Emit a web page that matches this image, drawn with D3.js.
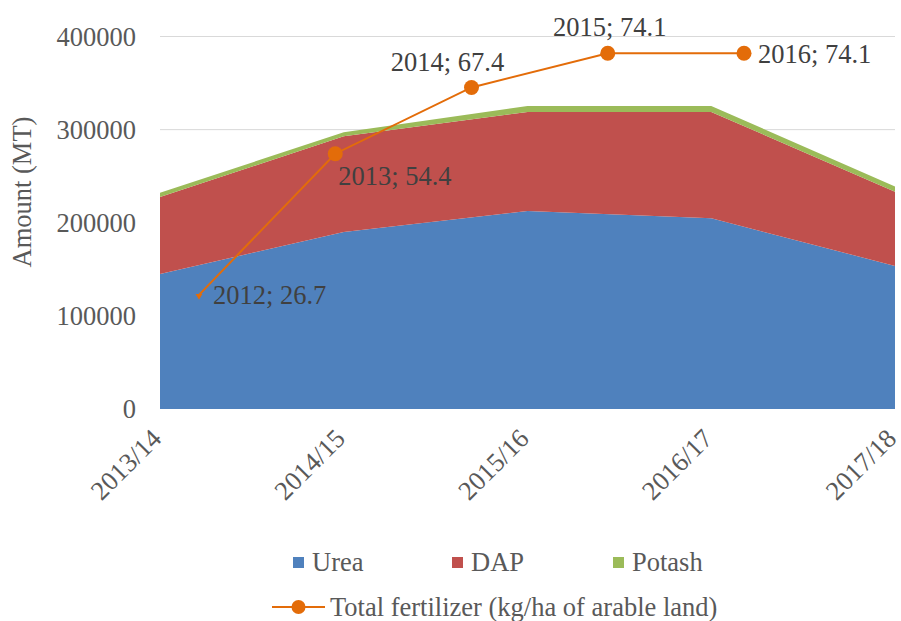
<!DOCTYPE html>
<html>
<head>
<meta charset="utf-8">
<script src="https://cdn.jsdelivr.net/npm/d3@7"></script>
<style>
  body { margin: 0; background: #fff; }
</style>
</head>
<body>
<svg width="901" height="621"></svg>
<script>
// Fertilizer amounts (MT) by season, stacked
const categories = ["2013/14", "2014/15", "2015/16", "2016/17", "2017/18"];
const urea = [145000, 190000, 212700, 204800, 153600];
const dap = [82700, 102900, 106300, 114200, 79800];
const potash = [4500, 4300, 6400, 6400, 5400];
const seriesNames = ["Urea", "DAP", "Potash"];

// Total fertilizer use (kg/ha of arable land), secondary series
const years = ["2012", "2013", "2014", "2015", "2016"];
const totalFert = [26.7, 54.4, 67.4, 74.1, 74.1];
const labelSide = ["right", "below", "aboveLeft", "above", "right"];

const yTicks = [0, 100000, 200000, 300000, 400000];

const colors = { Urea: "#4F81BD", DAP: "#C0504D", Potash: "#9BBB59" };
const lineColor = "#E36C09";
const FONT = 26.5;
const FAMILY = "'Liberation Serif'";

const svg = d3.select("svg");

// plot area
const plotLeft = 160, plotRight = 895, plotTop = 36.5, plotBottom = 409;

const x = d3.scalePoint().domain(categories).range([plotLeft, plotRight]);
const y = d3.scaleLinear().domain([0, 400000]).range([plotBottom, plotTop]);

// secondary (hidden) axes for the line series
const x2 = d3.scalePoint().domain(years).range([199, 744]);
const y2 = d3.scaleLinear().domain([4.3, 77.4]).range([plotBottom, plotTop]);

// Gridlines
svg.append("g")
  .selectAll("line")
  .data(yTicks.filter(d => d > 0))
  .enter().append("line")
  .attr("x1", plotLeft).attr("x2", plotRight)
  .attr("y1", d => y(d)).attr("y2", d => y(d))
  .attr("stroke", "#D9D9D9").attr("stroke-width", 1);

// Stacked areas
const rows = categories.map((c, i) => ({ cat: c, Urea: urea[i], DAP: dap[i], Potash: potash[i] }));
const stack = d3.stack().keys(seriesNames)(rows);

const area = d3.area()
  .x(d => x(d.data.cat))
  .y0(d => y(d[0]))
  .y1(d => y(d[1]));

svg.append("g")
  .selectAll("path")
  .data(stack)
  .enter().append("path")
  .attr("d", area)
  .attr("fill", d => colors[d.key]);

// Y axis tick labels
svg.append("g")
  .selectAll("text")
  .data(yTicks)
  .enter().append("text")
  .attr("x", 136)
  .attr("y", d => y(d))
  .attr("dy", "0.35em")
  .attr("text-anchor", "end")
  .attr("font-family", FAMILY)
  .attr("font-size", FONT)
  .attr("fill", "#595959")
  .text(d => d);

// Y axis title
svg.append("text")
  .attr("transform", "translate(22,192) rotate(-90)")
  .attr("dy", "0.35em")
  .attr("text-anchor", "middle")
  .attr("font-family", FAMILY)
  .attr("font-size", FONT)
  .attr("fill", "#595959")
  .text("Amount (MT)");

// X axis labels, rotated
svg.append("g")
  .selectAll("text")
  .data(categories)
  .enter().append("text")
  .attr("transform", d => "translate(" + (x(d) + 3) + ",440) rotate(-45)")
  .attr("text-anchor", "end")
  .attr("font-family", FAMILY)
  .attr("font-size", FONT)
  .attr("fill", "#595959")
  .text(d => d);

// Line series
const pts = years.map((yr, i) => ({ yr: yr, v: totalFert[i], side: labelSide[i] }));

svg.append("path")
  .datum(pts)
  .attr("d", d3.line().x(d => x2(d.yr)).y(d => y2(d.v)))
  .attr("fill", "none")
  .attr("stroke", lineColor)
  .attr("stroke-width", 2);

// first point marker is mostly clipped in the original, leaving a small tip
svg.append("path")
  .attr("d", d3.symbol().type(d3.symbolTriangle).size(20)())
  .attr("transform", "translate(" + x2(pts[0].yr) + "," + (y2(pts[0].v) + 1) + ") rotate(180)")
  .attr("fill", lineColor);

svg.append("g")
  .selectAll("circle")
  .data(pts.slice(1))
  .enter().append("circle")
  .attr("cx", d => x2(d.yr))
  .attr("cy", d => y2(d.v))
  .attr("r", 7.5)
  .attr("fill", lineColor);

// Data labels
function labelAttrs(d) {
  const px = x2(d.yr), py = y2(d.v);
  if (d.side === "right") return { x: px + 14, y: py, anchor: "start" };
  if (d.side === "below") return { x: px + 3, y: py + 22, anchor: "start" };
  if (d.side === "aboveLeft") return { x: px - 24, y: py - 26, anchor: "middle" };
  return { x: px + 2, y: py - 27, anchor: "middle" };
}

svg.append("g")
  .selectAll("text")
  .data(pts)
  .enter().append("text")
  .each(function(d) {
    const a = labelAttrs(d);
    d3.select(this)
      .attr("x", a.x).attr("y", a.y)
      .attr("text-anchor", a.anchor);
  })
  .attr("dy", "0.35em")
  .attr("font-family", FAMILY)
  .attr("font-size", FONT)
  .attr("fill", "#404040")
  .text(d => d.yr + "; " + d.v);

// Legend
const legendRow = [
  { name: "Urea", sx: 293 },
  { name: "DAP", sx: 452 },
  { name: "Potash", sx: 613 }
];

const lg = svg.append("g");
lg.selectAll("rect")
  .data(legendRow)
  .enter().append("rect")
  .attr("x", d => d.sx).attr("y", 557)
  .attr("width", 11).attr("height", 11)
  .attr("fill", d => colors[d.name]);

lg.selectAll("text.lg")
  .data(legendRow)
  .enter().append("text")
  .attr("class", "lg")
  .attr("x", d => d.sx + 19).attr("y", 562)
  .attr("dy", "0.35em")
  .attr("font-family", FAMILY)
  .attr("font-size", FONT)
  .attr("fill", "#595959")
  .text(d => d.name);

lg.append("line")
  .attr("x1", 272).attr("x2", 325)
  .attr("y1", 607).attr("y2", 607)
  .attr("stroke", lineColor).attr("stroke-width", 2);
lg.append("circle")
  .attr("cx", 298.5).attr("cy", 607).attr("r", 7)
  .attr("fill", lineColor);
lg.append("text")
  .attr("x", 330).attr("y", 607)
  .attr("dy", "0.35em")
  .attr("font-family", FAMILY)
  .attr("font-size", FONT)
  .attr("fill", "#595959")
  .text("Total fertilizer (kg/ha of arable land)");
</script>
</body>
</html>
